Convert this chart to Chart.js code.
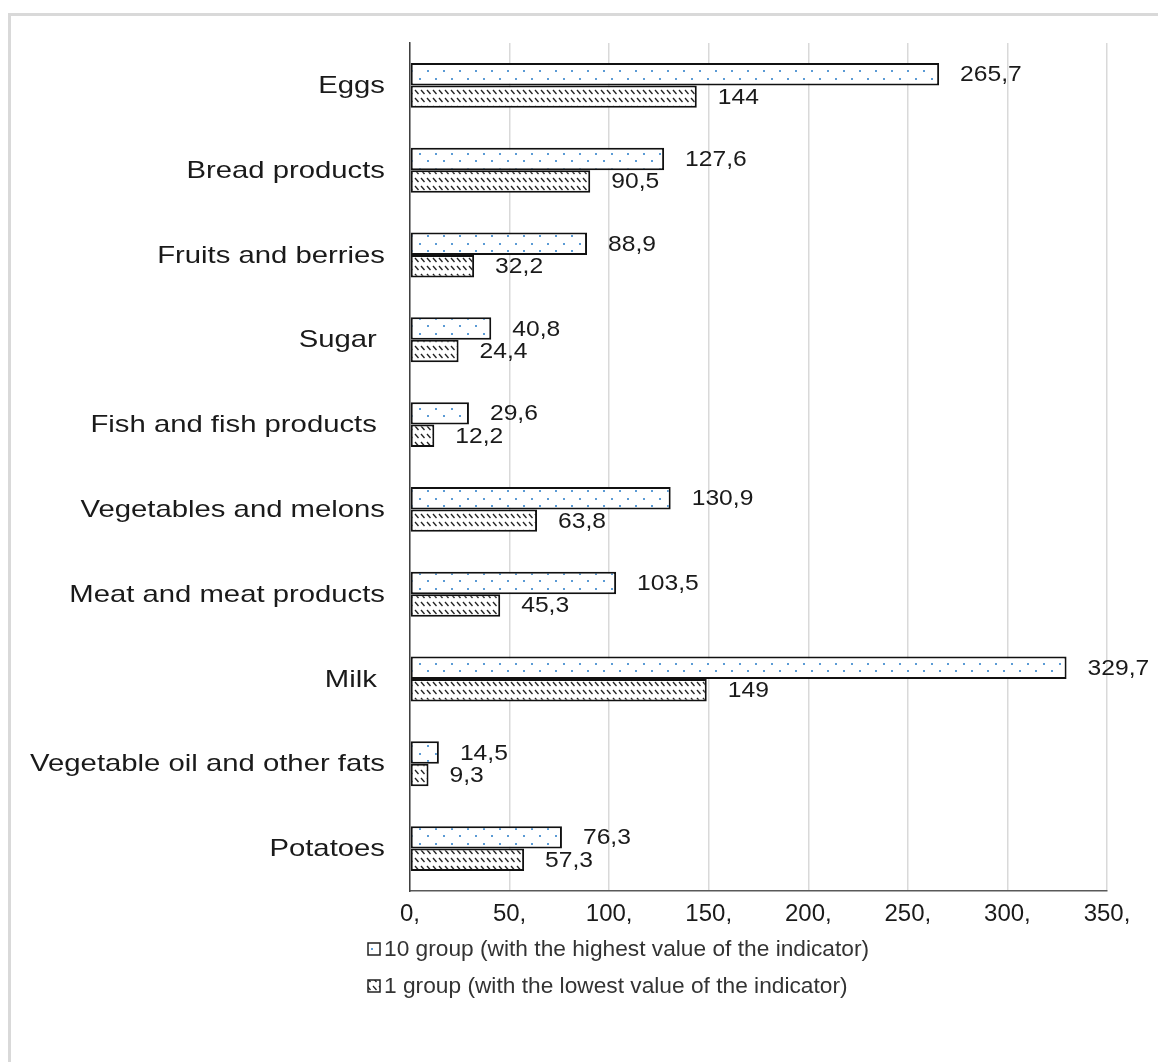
<!DOCTYPE html>
<html>
<head>
<meta charset="utf-8">
<script src="https://cdn.jsdelivr.net/npm/chart.js@4.4.0/dist/chart.umd.min.js"></script>
<style>
    html, body { margin: 0; padding: 0; background: #fff; overflow: hidden; }
    #frame {
        position: absolute; left: 8px; top: 13px; width: 1200px; height: 1100px;
        border-left: 3px solid #d9d9d9; border-top: 3px solid #d9d9d9;
    }
    #wrap { position: absolute; left: 0; top: 0; width: 1158px; height: 1062px; }
</style>
</head>
<body>
<div id="frame"></div>
<div id="wrap"><canvas id="chart" width="1158" height="1062"></canvas></div>
<script>
var categories = ['Eggs', 'Bread products', 'Fruits and berries', 'Sugar ', 'Fish and fish products ',
    'Vegetables and melons', 'Meat and meat products', 'Milk ', 'Vegetable oil and other fats', 'Potatoes'];
var highGroup = [265.7, 127.6, 88.9, 40.8, 29.6, 130.9, 103.5, 329.7, 14.5, 76.3];
var lowGroup = [144, 90.5, 32.2, 24.4, 12.2, 63.8, 45.3, 149, 9.3, 57.3];
var xTicks = [0, 50, 100, 150, 200, 250, 300, 350];
var seriesNames = ['10 group (with the highest value of the indicator)',
    '1 group (with the lowest value of the indicator)'];

var FONT = "'Liberation Sans', Arial, sans-serif";

// dotted fill for the 10 group
function dotPattern() {
    var c = document.createElement('canvas');
    c.width = 16; c.height = 15;
    var g = c.getContext('2d');
    g.fillStyle = '#fff';
    g.fillRect(0, 0, 16, 15);
    g.fillStyle = '#5b9bd5';
    g.fillRect(3, 3, 2, 2);
    g.fillRect(11, 10, 2, 2);
    return g.createPattern(c, 'repeat');
}

// short diagonal dashes for the 1 group
function hatchPattern() {
    var c = document.createElement('canvas');
    c.width = 6; c.height = 8;
    var g = c.getContext('2d');
    g.fillStyle = '#fff';
    g.fillRect(0, 0, 6, 8);
    g.strokeStyle = '#222';
    g.lineWidth = 1.4;
    g.beginPath();
    g.moveTo(1, 2);
    g.lineTo(4.5, 6);
    g.stroke();
    return g.createPattern(c, 'repeat');
}

function fmt(v) {
    return String(v).replace('.', ',');
}

// the source text is a little wider than Arial, stretch it sideways
function wideText(ctx, text, x, y, sx) {
    ctx.save();
    ctx.translate(x, y);
    ctx.scale(sx, 1);
    ctx.fillText(text, 0, 0);
    ctx.restore();
}

var categoryLabels = {
    id: 'categoryLabels',
    afterDraw: function (chart) {
        var ctx = chart.ctx;
        var yScale = chart.scales.y;
        ctx.save();
        ctx.font = '24px ' + FONT;
        ctx.fillStyle = '#1a1a1a';
        ctx.textAlign = 'right';
        ctx.textBaseline = 'middle';
        chart.data.labels.forEach(function (lab, i) {
            wideText(ctx, lab, yScale.right - 25, yScale.getPixelForTick(i) + 1, 1.22);
        });
        ctx.restore();
    }
};

var valueLabels = {
    id: 'valueLabels',
    afterDatasetsDraw: function (chart) {
        var ctx = chart.ctx;
        ctx.save();
        ctx.font = '22px ' + FONT;
        ctx.fillStyle = '#1a1a1a';
        ctx.textAlign = 'left';
        ctx.textBaseline = 'middle';
        chart.data.datasets.forEach(function (ds, i) {
            chart.getDatasetMeta(i).data.forEach(function (bar, j) {
                wideText(ctx, fmt(ds.data[j]), bar.x + 21, bar.y + 1, 1.12);
            });
        });
        ctx.restore();
    }
};

// vertical legend under the axis
var stackedLegend = {
    id: 'stackedLegend',
    afterDraw: function (chart) {
        var ctx = chart.ctx;
        var top = chart.chartArea.bottom + 58;
        ctx.save();
        ctx.font = '22.5px ' + FONT;
        ctx.textBaseline = 'middle';
        ctx.textAlign = 'left';
        chart.data.datasets.forEach(function (ds, i) {
            var y = top + i * 37;
            ctx.fillStyle = ds.backgroundColor;
            ctx.fillRect(368, y - 6, 12, 12);
            ctx.strokeStyle = '#222';
            ctx.lineWidth = 1.5;
            ctx.strokeRect(368, y - 6, 12, 12);
            ctx.fillStyle = '#333';
            wideText(ctx, ds.label, 384, y + 1, 1.01);
        });
        ctx.restore();
    }
};

var ctx = document.getElementById('chart').getContext('2d');
var chart = new Chart(ctx, {
    type: 'bar',
    data: {
        labels: categories,
        datasets: [{
            label: seriesNames[0],
            data: highGroup,
            backgroundColor: dotPattern(),
            borderColor: '#111',
            borderWidth: 2,
            borderSkipped: false
        }, {
            label: seriesNames[1],
            data: lowGroup,
            backgroundColor: hatchPattern(),
            borderColor: '#111',
            borderWidth: 2,
            borderSkipped: false
        }]
    },
    options: {
        indexAxis: 'y',
        responsive: false,
        animation: false,
        events: [],
        categoryPercentage: 0.53,
        barPercentage: 1,
        layout: { padding: { top: 43, right: 51, left: 0, bottom: 0 } },
        plugins: {
            legend: { display: false },
            tooltip: { enabled: false }
        },
        scales: {
            x: {
                min: 0,
                max: 350,
                afterBuildTicks: function (scale) {
                    scale.ticks = xTicks.map(function (v) { return { value: v }; });
                },
                afterFit: function (scale) { scale.height = 171; },
                grid: { color: '#d9d9d9', lineWidth: 1.5, drawTicks: false },
                border: { color: '#595959', width: 1.5 },
                ticks: {
                    padding: 9,
                    color: '#1a1a1a',
                    font: { family: FONT, size: 24 },
                    callback: function (v) { return v + ','; }
                }
            },
            y: {
                afterFit: function (scale) { scale.width = 410; },
                grid: { display: false, drawTicks: false },
                border: { color: '#404040', width: 1.5 },
                ticks: { display: false }
            }
        }
    },
    plugins: [valueLabels, categoryLabels, stackedLegend]
});
</script>
</body>
</html>
